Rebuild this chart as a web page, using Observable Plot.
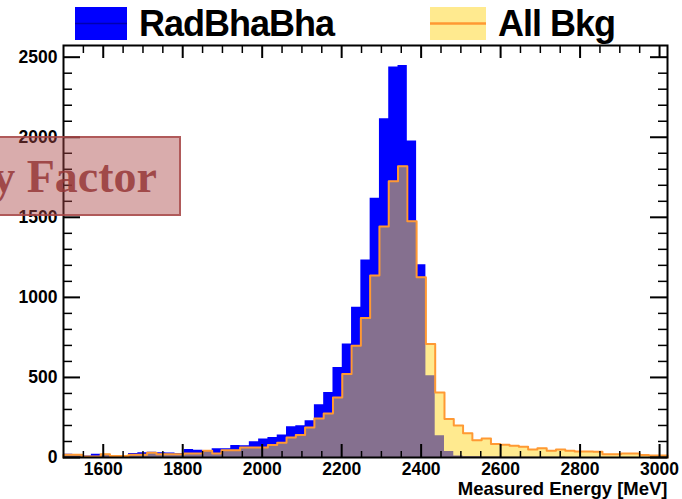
<!DOCTYPE html>
<html><head><meta charset="utf-8">
<script src="https://cdn.jsdelivr.net/npm/d3@7"></script>
<script src="https://cdn.jsdelivr.net/npm/@observablehq/plot@0.6"></script>
<style>
body{margin:0;background:#fff;width:682px;height:499px;overflow:hidden;position:relative;font-family:"Liberation Sans",Arial,Helvetica,sans-serif;}
#legend svg,#chart svg{display:block}
#factor{position:absolute;left:-3px;top:136px;width:184px;height:80px;background:rgba(170,70,70,0.45);border:2px solid rgba(165,70,70,0.8);overflow:hidden;box-sizing:border-box}
#factor span{position:absolute;right:22px;top:16px;font:bold 46px "Liberation Serif","Times New Roman",serif;color:rgba(150,55,55,0.85);white-space:nowrap;line-height:46px}
</style></head>
<body>
<div id="legend"></div>
<div id="chart"></div>
<div id="factor"><span>y Factor</span></div>
<script>
// ---- data ----
const xMin = 1500, xMax = 3020, nBins = 65;
const radBhaBha = [20,15,10,20,18,8,12,25,30,33,30,28,25,50,45,40,55,55,75,73,98,115,125,140,192,198,229,329,406,562,709,938,1234,1619,2115,2438,2448,1977,1204,511,136,38,10,5,4,3,3,2,2,2,1,1,1,1,0,0,0,0,0,0,0,0,0,0,0];
const allBkg = [17,17,6,6,21,10,10,17,17,29,21,21,21,25,25,42,25,46,46,63,63,63,78,92,125,140,188,244,275,375,521,698,871,1136,1442,1725,1819,1475,1125,709,406,240,200,152,108,118,84,80,73,67,50,57,42,50,42,38,38,36,21,21,25,25,15,12,12];
const seriesNames = ["RadBhaBha", "All Bkg"];
const xMajorTicks = [1600,1800,2000,2200,2400,2600,2800,3000];
const yMajorTicks = [0,500,1000,1500,2000,2500];
const yMax = 2573;
const xLabel = "Measured Energy [MeV]";

const blue = "#0000ff", orange = "#ff9933", bkgFill = "rgba(255,215,40,0.52)";

// ---- legend ----
const legendItems = [
  {name: seriesNames[0], bx: 75, w: 52, tx: 139, fill: blue, line: "#0000b0", lw: 1.5},
  {name: seriesNames[1], bx: 430, w: 56, tx: 498, fill: bkgFill, line: orange, lw: 2.5}
];
let lg = `<svg width="682" height="44" xmlns="http://www.w3.org/2000/svg">`;
for (const it of legendItems) {
  lg += `<rect x="${it.bx}" y="7" width="${it.w}" height="33" fill="${it.fill}"/>`;
  lg += `<line x1="${it.bx}" x2="${it.bx + it.w}" y1="23.5" y2="23.5" stroke="${it.line}" stroke-width="${it.lw}"/>`;
  lg += `<text x="${it.tx}" y="36" font-size="36" font-weight="bold" letter-spacing="-1" font-family="Liberation Sans, Arial, Helvetica, sans-serif">${it.name}</text>`;
}
lg += `</svg>`;
document.getElementById("legend").innerHTML = lg;

// ---- chart ----
const W = 682, H = 455, mL = 63, mR = 15, mT = 1, mB = 42;
const innerW = W - mL - mR, innerH = H - mT - mB;
const binW = (xMax - xMin) / nBins;
const edges = d3.range(nBins + 1).map(i => xMin + i * binW);
function stepPoints(counts){
  const pts = counts.map((c, i) => ({x: edges[i], y: c}));
  pts.push({x: edges[nBins], y: counts[nBins - 1]});
  return pts;
}
const bluePts = stepPoints(radBhaBha);
const bkgPts = stepPoints(allBkg);
const bkgOutline = [{x: xMin, y: 0}, ...bkgPts, {x: xMax, y: 0}];

const xMinor = d3.range(1550, 3001, 50).filter(v => !xMajorTicks.includes(v));
const yMinor = d3.range(100, 2501, 100).filter(v => !yMajorTicks.includes(v));
const font = "Liberation Sans, Arial, Helvetica, sans-serif";

const chart = Plot.plot({
  width: W, height: H,
  marginLeft: mL, marginRight: mR, marginTop: mT, marginBottom: mB,
  x: {domain: [xMin, xMax]},
  y: {domain: [0, yMax]},
  style: {fontFamily: font, fontWeight: "bold", color: "black", background: "transparent", overflow: "visible"},
  marks: [
    Plot.areaY(bluePts, {x: "x", y: "y", curve: "step-after", fill: blue}),
    Plot.areaY(bkgPts, {x: "x", y: "y", curve: "step-after", fill: bkgFill}),
    Plot.lineY(bkgOutline, {x: "x", y: "y", curve: "step-after", stroke: orange, strokeWidth: 2}),
    // minor ticks
    Plot.tickX(xMinor, {x: d => d, stroke: "black", strokeWidth: 1.5, insetTop: innerH - 6}),
    Plot.tickX(xMinor, {x: d => d, stroke: "black", strokeWidth: 1.5, insetBottom: innerH - 8}),
    Plot.tickY(yMinor, {y: d => d, stroke: "black", strokeWidth: 1.5, insetRight: innerW - 9}),
    Plot.tickY(yMinor, {y: d => d, stroke: "black", strokeWidth: 1.5, insetLeft: innerW - 9}),
    // major ticks
    Plot.tickX(xMajorTicks, {x: d => d, stroke: "black", strokeWidth: 2, insetTop: innerH - 13}),
    Plot.tickX(xMajorTicks, {x: d => d, stroke: "black", strokeWidth: 2, insetBottom: innerH - 13}),
    Plot.tickY(yMajorTicks, {y: d => d, stroke: "black", strokeWidth: 2, insetRight: innerW - 17}),
    Plot.tickY(yMajorTicks, {y: d => d, stroke: "black", strokeWidth: 2, insetLeft: innerW - 17}),
    Plot.frame({stroke: "black", strokeWidth: 2}),
    Plot.axisX({ticks: xMajorTicks, tickSize: 0, tickPadding: 5, fontSize: 17.5, fontWeight: "bold", tickFormat: d => String(d), label: null}),
    Plot.axisY({ticks: yMajorTicks, tickSize: 0, tickPadding: 6, fontSize: 17.5, fontWeight: "bold", tickFormat: d => String(d), label: null}),
    Plot.text([xLabel], {text: d => d, frameAnchor: "bottom-right", textAnchor: "end", lineAnchor: "bottom", dy: 37, fontSize: 18.5, fontWeight: "bold"})
  ]
});
document.getElementById("chart").appendChild(chart);
</script>
</body></html>
